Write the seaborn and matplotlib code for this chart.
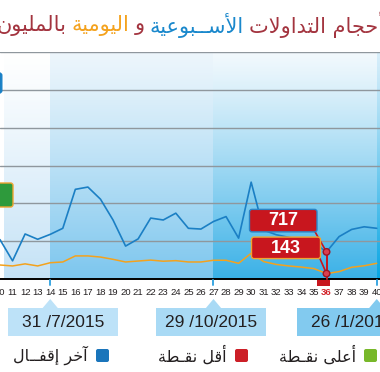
import numpy as np
import pandas as pd
import matplotlib
matplotlib.use("Agg")
import matplotlib.pyplot as plt
from matplotlib.patches import FancyBboxPatch, Rectangle, Polygon, Circle
from matplotlib.colors import to_rgb
import seaborn as sns

# --- data ---
WEEKS = list(range(10, 41))
WEEKLY = [1040, 480, 1190, 1050, 1180, 1340, 2370, 2430, 2110, 1560, 870,
          1060, 1610, 1560, 1740, 1340, 1320, 1520, 1650, 1080, 2560, 1290,
          1170, 1100, 1030, 950, 717, 1120, 1310, 1380, 1340]
DAILY = [370, 345, 400, 345, 430, 450, 610, 610, 580, 520, 450, 475, 500,
         470, 485, 450, 450, 495, 495, 415, 680, 460, 385, 345, 315, 275,
         143, 195, 310, 350, 415]
QUARTER_WEEKS = [14, 27, 40]
QUARTER_LABELS = ["31 /7/2015", "29 /10/2015", "26 /1/2016"]
TITLE_PARTS = ["أحجام التداولات", "الأســبوعية", "و", "اليومية", "بالمليون"]
LEGEND_LABELS = ["آخر إقفــال", "أقل نقـطة", "أعلى نقـطة"]

BLUE = "#1b7fc4"
ORANGE = "#f4a21d"
RED = "#c8161e"
GREEN = "#2e9a3c"
DARKRED = "#a3343f"
TITLE_COLORS = [DARKRED, "#1a88cc", DARKRED, ORANGE, DARKRED]
LEGEND_COLORS = ["#1a75bb", "#cc1f27", "#78b82a"]
BOX_COLORS = ["#bde2f8", "#a9daf5", "#82caef"]
BAND_COLORS = [("#ffffff", "#c4e2f6"), ("#edf6fc", "#7cc6ee"),
               ("#f2f9fd", "#3ab1e7"), ("#d8eefa", "#06a5e3")]

W, H, DPI = 380, 372, 100
AR_FONT = "DejaVu Sans"
NUM_FONT = "Liberation Sans"

# --- minimal arabic shaping (presentation forms, visual order) ---
AR_FORMS = {
    "\u0622": "\uFE81\uFE82", "\u0623": "\uFE83\uFE84", "\u0625": "\uFE87\uFE88",
    "\u0627": "\uFE8D\uFE8E", "\u0628": "\uFE8F\uFE90\uFE91\uFE92",
    "\u0629": "\uFE93\uFE94", "\u062A": "\uFE95\uFE96\uFE97\uFE98",
    "\u062C": "\uFE9D\uFE9E\uFE9F\uFEA0", "\u062D": "\uFEA1\uFEA2\uFEA3\uFEA4",
    "\u062E": "\uFEA5\uFEA6\uFEA7\uFEA8", "\u062F": "\uFEA9\uFEAA",
    "\u0631": "\uFEAD\uFEAE", "\u0633": "\uFEB1\uFEB2\uFEB3\uFEB4",
    "\u0637": "\uFEC1\uFEC2\uFEC3\uFEC4", "\u0639": "\uFEC9\uFECA\uFECB\uFECC",
    "\u0641": "\uFED1\uFED2\uFED3\uFED4", "\u0642": "\uFED5\uFED6\uFED7\uFED8",
    "\u0644": "\uFEDD\uFEDE\uFEDF\uFEE0", "\u0645": "\uFEE1\uFEE2\uFEE3\uFEE4",
    "\u0646": "\uFEE5\uFEE6\uFEE7\uFEE8", "\u0648": "\uFEED\uFEEE",
    "\u0649": "\uFEEF\uFEF0", "\u064A": "\uFEF1\uFEF2\uFEF3\uFEF4",
    "\u0640": "\u0640\u0640\u0640\u0640",
}
LAM_ALEF = {"\u0622": "\uFEF5\uFEF6", "\u0623": "\uFEF7\uFEF8",
            "\u0625": "\uFEF9\uFEFA", "\u0627": "\uFEFB\uFEFC"}


def shape_ar(text):
    out = []
    i = 0
    while i < len(text):
        c = text[i]
        prev = text[i - 1] if i > 0 else ""
        linked = len(AR_FORMS.get(prev, "")) == 4
        if c == "\u0644" and i + 1 < len(text) and text[i + 1] in LAM_ALEF:
            out.append(LAM_ALEF[text[i + 1]][1 if linked else 0])
            i += 2
            continue
        if c not in AR_FORMS:
            out.append(c)
            i += 1
            continue
        forms = AR_FORMS[c]
        nxt = text[i + 1] if i + 1 < len(text) else ""
        to_next = len(forms) == 4 and nxt in AR_FORMS
        if linked and to_next:
            out.append(forms[3])
        elif linked:
            out.append(forms[1])
        elif to_next:
            out.append(forms[2])
        else:
            out.append(forms[0])
        i += 1
    return "".join(reversed(out))


def fxy(x, y):
    # image pixel (top origin) -> figure fraction
    return x / W, 1 - y / H


def add_box(ax, x0, y0, x1, y1, fc, ec="none", lw=0, r=2.5, z=6):
    p = FancyBboxPatch(fxy(x0, y1), (x1 - x0) / W, (y1 - y0) / H,
                       boxstyle=f"round,pad=0,rounding_size={r / W}",
                       fc=fc, ec=ec, lw=lw, transform=ax.figure.transFigure,
                       clip_on=False, zorder=z)
    ax.add_patch(p)


sns.set_style("white")
plt.rcParams["font.family"] = [NUM_FONT, "DejaVu Sans"]

df = pd.DataFrame({"week": WEEKS, "weekly": WEEKLY, "daily": DAILY})

fig = plt.figure(figsize=(W / DPI, H / DPI), dpi=DPI)
fig.patch.set_facecolor("white")
ax = fig.add_axes([0, (H - 279) / H, 1, (279 - 52) / H])
ax.set_xlim(10.32, 40.26)
ax.set_ylim(0, 6000)

# background bands with vertical gradients
edges = [ax.get_xlim()[0]] + QUARTER_WEEKS + [ax.get_xlim()[1]]
t = np.linspace(0, 1, 200) ** 1.15
for (x0, x1), (top, bot) in zip(zip(edges[:-1], edges[1:]), BAND_COLORS):
    top, bot = np.array(to_rgb(top)), np.array(to_rgb(bot))
    grad = (top[None, :] * (1 - t[:, None]) + bot[None, :] * t[:, None])[:, None, :]
    ax.imshow(grad, extent=[x0, x1, 0, 6000], aspect="auto", zorder=0,
              interpolation="bilinear")

sns.lineplot(data=df, x="week", y="daily", color=ORANGE, lw=1.1, ax=ax,
             legend=False, zorder=3)
sns.lineplot(data=df, x="week", y="weekly", color=BLUE, lw=1.2, ax=ax,
             legend=False, zorder=3)

ax.set_yticks([1000, 2000, 3000, 4000, 5000, 6000])
ax.set_yticklabels([])
ax.yaxis.grid(True, color="#8f979d", lw=1.0)
ax.xaxis.grid(False)
ax.set_axisbelow(True)
ax.set_xticks(WEEKS)
ax.set_xticklabels([str(w) for w in WEEKS], fontsize=6.8, color="#231f20",
                   family=NUM_FONT)
ax.tick_params(axis="both", length=0)
ax.tick_params(axis="x", pad=6.5)
ax.set_xlabel("")
ax.set_ylabel("")
for s in ["top", "left", "right"]:
    ax.spines[s].set_visible(False)
ax.spines["bottom"].set_color("black")
ax.spines["bottom"].set_linewidth(1.4)
ax.spines["bottom"].set_zorder(4)

# lowest point of the current quarter
start = WEEKS.index(QUARTER_WEEKS[1])
i_min = start + int(np.argmin(WEEKLY[start:]))
wk_min = WEEKS[i_min]
ax.get_xticklabels()[i_min].set_color("#d2232a")
ax.get_xticklabels()[i_min].set_fontweight("bold")


def img_px(x, y):
    dx, dy = ax.transData.transform((x, y))
    return dx, H - dy


bx, by = img_px(wk_min, WEEKLY[i_min])
ox, oy = img_px(wk_min, DAILY[i_min])
base_y = img_px(wk_min, 0)[1]

ax.plot([bx / W, bx / W], [1 - by / H, 1 - base_y / H], color=RED, lw=1.4,
        transform=fig.transFigure, clip_on=False, zorder=7)
ax.add_patch(Rectangle(fxy(bx - 9.5, base_y + 7), 12.5 / W, 6 / H, fc=RED,
                       ec="none", transform=fig.transFigure, clip_on=False,
                       zorder=7))
ax.plot([(bx - 12) / W, bx / W], [1 - (by - 21) / H, 1 - by / H], color=RED,
        lw=1.2, transform=fig.transFigure, clip_on=False, zorder=7)
ax.plot([(ox - 7) / W, ox / W], [1 - (oy - 16) / H, 1 - oy / H], color=RED,
        lw=1.2, transform=fig.transFigure, clip_on=False, zorder=7)

add_box(ax, bx - 77, by - 42.5, bx - 9.5, by - 20, RED, ec="#2b84c6", lw=1.0, z=8)
ax.text(*fxy(bx - 43, by - 31), str(WEEKLY[i_min]), transform=fig.transFigure,
        ha="center", va="center", color="white", fontsize=13,
        fontweight="bold", family=NUM_FONT, zorder=9)
add_box(ax, ox - 75, oy - 36.5, ox - 6, oy - 15, RED, ec="#f0a431", lw=1.0, z=8)
ax.text(*fxy(ox - 40.5, oy - 25.5), str(DAILY[i_min]), transform=fig.transFigure,
        ha="center", va="center", color="white", fontsize=13,
        fontweight="bold", family=NUM_FONT, zorder=9)

for (px_, py_) in [(bx, by), (ox, oy)]:
    ax.add_patch(Circle(fxy(px_, py_), 3.3 / W, fc="#d9404e", ec="#9b1525",
                        lw=1.0, transform=fig.transFigure, clip_on=False,
                        zorder=10))

# partial callouts cut by the left edge
add_box(ax, -30, 183, 13, 207, GREEN, ec="#f0a431", lw=1.0, z=8)
add_box(ax, -30, 73, 1.8, 93, "#1b7fc4", ec="#1a82c8", lw=1.0, z=8)

# quarter markers and date boxes
box_lefts = [8, 156, 297]
for wk, lab, left, col in zip(QUARTER_WEEKS, QUARTER_LABELS, box_lefts, BOX_COLORS):
    tx = img_px(wk, 0)[0]
    ax.plot([tx / W, tx / W], [1 - 279.5 / H, 1 - 285 / H], color="#3ba7e2",
            lw=1.4, transform=fig.transFigure, clip_on=False, zorder=6)
    ax.add_patch(Polygon([fxy(tx, 299), fxy(tx - 8, 308.5), fxy(tx + 8, 308.5)],
                         closed=True, fc=col, ec="none",
                         transform=fig.transFigure, clip_on=False, zorder=6))
    ax.add_patch(Rectangle(fxy(left, 336), 110 / W, 28 / H, fc=col, ec="none",
                           transform=fig.transFigure, clip_on=False, zorder=6))
    ax.text(*fxy(left + 55, 322.5), lab, transform=fig.transFigure, ha="center",
            va="center", fontsize=12.5, color="#231f20", family=NUM_FONT,
            zorder=7)

# legend
leg_sq = [96, 235, 364]
for lab, col, sx in zip(LEGEND_LABELS, LEGEND_COLORS, leg_sq):
    fig.patches.append(FancyBboxPatch(fxy(sx, 362), 13 / W, 13 / H,
                                      boxstyle=f"round,pad=0,rounding_size={2 / W}",
                                      fc=col, ec="none", transform=fig.transFigure))
    fig.text(*fxy(sx - 8, 355), shape_ar(lab), ha="right", va="center",
             fontsize=11.5, color="#231f20", family=AR_FONT)

# title, laid out right to left in coloured parts
renderer = fig.canvas.get_renderer()
x_right = 384
for part, col in zip(TITLE_PARTS, TITLE_COLORS):
    tt = fig.text(*fxy(x_right, 25), shape_ar(part), ha="right", va="center",
                  fontsize=15, color=col, family=AR_FONT)
    x_right -= tt.get_window_extent(renderer).width + 5

fig.savefig("out.png", dpi=DPI)
